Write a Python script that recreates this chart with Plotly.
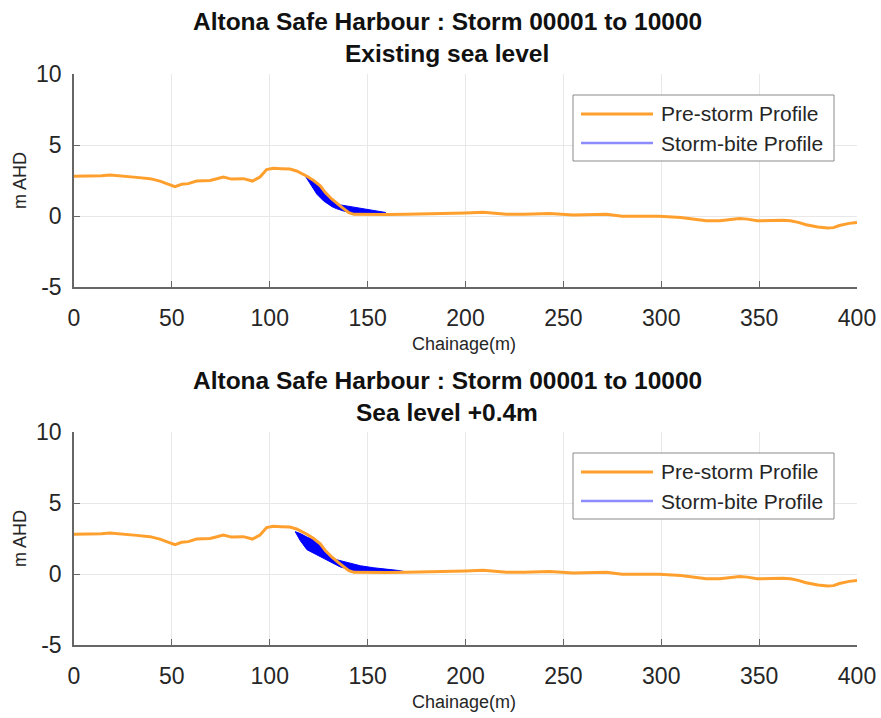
import plotly.graph_objects as go

# ---- data -------------------------------------------------------------
# Pre-storm beach profile (chainage in m, level in m AHD)
chainage = [0, 5, 9.9, 14, 18.4, 22, 26.9, 32, 38.8, 43.9, 48, 51.6, 55, 58.4,
            62.6, 66, 69.5, 73, 76.3, 80.5, 86.5, 91.2, 95, 98.4, 101.8, 106,
            110.3, 113.7, 116.5, 119, 122.4, 125.8, 128.4, 131.8, 136.1, 140.4,
            143, 150, 160, 170, 180, 187, 195, 200, 209, 215, 221, 230, 243,
            255, 265, 272, 280, 290, 299, 310, 318, 323, 330, 336, 340, 344,
            349, 356, 362, 366, 370, 374, 380, 385, 388, 391, 396, 400]
pre_storm = [2.8, 2.8, 2.82, 2.84, 2.89, 2.85, 2.82, 2.72, 2.63, 2.46, 2.25, 2.07,
             2.23, 2.28, 2.46, 2.47, 2.5, 2.62, 2.75, 2.6, 2.63, 2.46, 2.75, 3.27,
             3.36, 3.33, 3.31, 3.17, 3.0, 2.8, 2.5, 2.13, 1.65, 1.18, 0.7, 0.24,
             0.12, 0.1, 0.1, 0.12, 0.14, 0.17, 0.2, 0.22, 0.26, 0.18, 0.12, 0.12,
             0.17, 0.07, 0.1, 0.12, -0.02, -0.02, -0.02, -0.1, -0.25, -0.34, -0.34,
             -0.25, -0.18, -0.22, -0.34, -0.32, -0.3, -0.34, -0.45, -0.62, -0.78,
             -0.85, -0.82, -0.67, -0.52, -0.46]

# Storm-bite envelope, existing sea level
bite1_x = [118.2, 121.5, 124.1, 127.5, 129.5, 131.8, 134, 136.1, 138, 140.4,
           143, 148, 152, 155, 159.1]
bite1_low = [2.8, 2.11, 1.53, 1.06, 0.85, 0.66, 0.52, 0.42, 0.34, 0.28, 0.2,
             0.15, 0.14, 0.14, 0.17]
bite1_high = [2.8, 2.5, 2.25, 1.85, 1.5, 1.18, 0.95, 0.78, 0.72, 0.66, 0.6,
              0.47, 0.4, 0.35, 0.25]

# Storm-bite envelope, sea level +0.4 m
bite2_x = [113, 115.6, 119, 124.1, 129.2, 131, 134.3, 136, 138.6, 141, 146.3,
           153, 160, 165, 169]
bite2_low = [2.98, 2.35, 1.71, 1.34, 0.94, 0.82, 0.58, 0.5, 0.4, 0.3, 0.15,
             0.12, 0.12, 0.12, 0.12]
bite2_high = [2.98, 2.85, 2.6, 2.3, 1.5, 1.2, 1.0, 0.94, 0.85, 0.77, 0.58,
              0.44, 0.33, 0.26, 0.17]

title_main = "Altona Safe Harbour : Storm 00001 to 10000"
subtitles = ["Existing sea level", "Sea level +0.4m"]
legend_labels = ["Pre-storm Profile", "Storm-bite Profile"]
x_ticks = [0, 50, 100, 150, 200, 250, 300, 350, 400]
y_ticks = [-5, 0, 5, 10]
y_tick_text = ["-5", "0", "5", "10"]

# ---- styling ------------------------------------------------------------
ORANGE = "#ffa02e"
BLUE = "#0000ff"
BLUE_LEGEND = "#8c8cff"
AXIS = "#666666"
GRID = "#e8e8e8"
TEXT = "#262626"
FONT = "Liberation Sans, Arial, sans-serif"

W, H = 881, 718
ML, MR, MT, MB = 74, 24, 74, 73
PW, PH = W - ML - MR, H - MT - MB


def px(x):
    return (x - ML) / PW


def py(y):
    return (H - MB - y) / PH


fig = go.Figure()

panels = [
    ("x", "y", bite1_x, bite1_low, bite1_high, 0),
    ("x2", "y2", bite2_x, bite2_low, bite2_high, 358),
]

for xa, ya, bx, blo, bhi, off in panels:
    # storm-bite envelope
    fig.add_trace(go.Scatter(
        x=bx + bx[::-1], y=blo + bhi[::-1], xaxis=xa, yaxis=ya,
        mode="lines", fill="toself", fillcolor=BLUE,
        line=dict(color=BLUE, width=1), showlegend=False, hoverinfo="skip"))
    # pre-storm profile
    fig.add_trace(go.Scatter(
        x=chainage, y=pre_storm, xaxis=xa, yaxis=ya, mode="lines",
        line=dict(color=ORANGE, width=3), showlegend=False))

axis_common = dict(
    showline=True, linecolor=AXIS, linewidth=1.5, mirror=False,
    ticks="inside", ticklen=6, tickcolor=AXIS, tickwidth=1.2,
    showgrid=True, gridcolor=GRID, gridwidth=1, zeroline=False,
    tickfont=dict(family=FONT, size=23, color=TEXT),
)

top_dom = [1 - 213 / PH, 1]
bot_dom = [0, 213 / PH]

fig.update_layout(
    width=W, height=H,
    margin=dict(l=ML, r=MR, t=MT, b=MB, autoexpand=False),
    paper_bgcolor="white", plot_bgcolor="white",
    showlegend=False,
    xaxis=dict(range=[0, 400], tickvals=x_ticks, anchor="y",
               ticklabelstandoff=10, **axis_common),
    yaxis=dict(range=[-5, 10], tickvals=y_ticks, ticktext=y_tick_text,
               domain=top_dom, anchor="x", ticklabelstandoff=6, **axis_common),
    xaxis2=dict(range=[0, 400], tickvals=x_ticks, anchor="y2",
                ticklabelstandoff=10, **axis_common),
    yaxis2=dict(range=[-5, 10], tickvals=y_ticks, ticktext=y_tick_text,
                domain=bot_dom, anchor="x2", ticklabelstandoff=6, **axis_common),
)

annotations = []
shapes = []
for i, (_, _, _, _, _, off) in enumerate(panels):
    # two-line bold title
    annotations.append(dict(
        text="<b>" + title_main + "</b>", x=px(447.5), y=py(22 + off),
        xref="paper", yref="paper", showarrow=False, xanchor="center",
        yanchor="middle", font=dict(family=FONT, size=24.5, color="#111111")))
    annotations.append(dict(
        text="<b>" + subtitles[i] + "</b>", x=px(447), y=py(54 + off),
        xref="paper", yref="paper", showarrow=False, xanchor="center",
        yanchor="middle", font=dict(family=FONT, size=24.5, color="#111111")))
    # axis titles
    annotations.append(dict(
        text="Chainage(m)", x=px(464), y=py(344 + off), xref="paper",
        yref="paper", showarrow=False, xanchor="center", yanchor="middle",
        font=dict(family=FONT, size=18, color=TEXT)))
    annotations.append(dict(
        text="m AHD", x=px(20), y=py(181 + off), xref="paper", yref="paper",
        showarrow=False, xanchor="center", yanchor="middle", textangle=-90,
        font=dict(family=FONT, size=18, color=TEXT)))
    # legend box
    shapes.append(dict(
        type="rect", xref="paper", yref="paper",
        x0=px(573), x1=px(834), y0=py(95 + off), y1=py(161 + off),
        line=dict(color="#8a8a8a", width=1), fillcolor="white", layer="above"))
    for j, (lab, col) in enumerate(zip(legend_labels, [ORANGE, BLUE_LEGEND])):
        yy = 114 + 29 * j + off
        shapes.append(dict(
            type="line", xref="paper", yref="paper",
            x0=px(581), x1=px(653), y0=py(yy), y1=py(yy),
            line=dict(color=col, width=3 if j == 0 else 2.5), layer="above"))
        annotations.append(dict(
            text=lab, x=px(659), y=py(yy), xref="paper", yref="paper",
            showarrow=False, xanchor="left", yanchor="middle",
            font=dict(family=FONT, size=21, color=TEXT)))

fig.update_layout(annotations=annotations, shapes=shapes)

fig.write_html("out.html")
